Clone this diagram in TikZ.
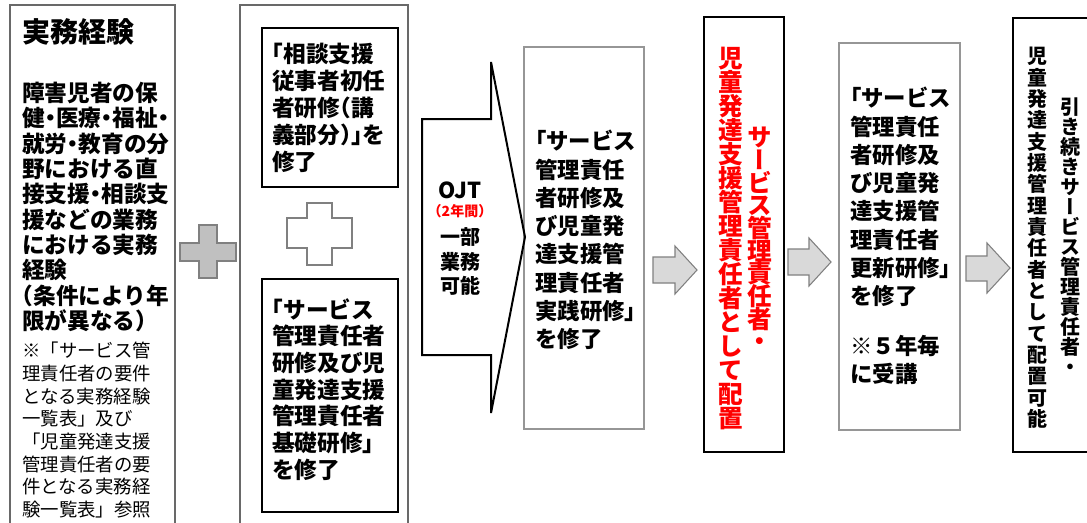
\documentclass[tikz,border=0pt]{standalone}
\usepackage{fontspec}
\usetikzlibrary{fit}
\setmainfont{Noto Sans CJK JP}
\newfontfamily\hfont{Noto Sans CJK JP}[RawFeature=+halt]
\newfontfamily\vfont{Noto Sans CJK JP}[RawFeature=+vert]
\newfontfamily\nfont{Noto Sans CJK JP}
\def\tateloop#1{\ifx\relax#1\else\hbox to 1em{\hss#1\hss}\expandafter\tateloop\fi}
\newcommand\tatecol[2]{\vbox{\baselineskip=#1\lineskiplimit=-\maxdimen\lineskip=0pt\tateloop#2\relax}}
\definecolor{bordgray}{RGB}{105,105,105}
\definecolor{lightbord}{RGB}{150,150,150}
\definecolor{plusfill}{RGB}{192,192,192}
\definecolor{arrfill}{RGB}{217,217,217}
\definecolor{arrdraw}{RGB}{128,128,128}
\definecolor{txtred}{RGB}{255,0,0}
\tikzset{
  outerbox/.style={draw=bordgray, line width=1.6pt, inner sep=0pt},
  grbox/.style={draw=lightbord, line width=0.9pt, inner sep=0pt},
  blkbox/.style={draw=black, line width=1pt, inner sep=0pt},
  blockarrow/.style={draw=arrdraw, fill=arrfill, line width=0.8pt, line join=miter},
  txt/.style={inner sep=0pt, anchor=north west, align=left, text=black},
  vtxt/.style={inner sep=0pt, anchor=north},
}
\begin{document}
\begin{tikzpicture}[x=0.75pt,y=-0.75pt]
\useasboundingbox (0,0) rectangle (1087,522);
% boxes
\node[outerbox, fit={(10,5) (175,545)}] (exp) {};
\node[outerbox, fit={(240,5) (408,545)}] (trn) {};
\node[blkbox, fit={(262,28) (398,187)}] (soudan) {};
\node[blkbox, fit={(262,279) (398,512)}] (kiso) {};
\node[grbox, fit={(524,47) (644,429)}] (jissen) {};
\node[blkbox, line width=1.2pt, fit={(704,17) (784,452)}] (haichi) {};
\node[grbox, fit={(839,43) (960,430)}] (koshin) {};
\node[blkbox, line width=1.2pt, fit={(1013,18) (1100,452)}] (keizoku) {};
% plus signs
\draw[draw=arrdraw, fill=plusfill, line width=0.8pt] (199,225) -- (217,225) -- (217,243) -- (236,243) -- (236,261) -- (217,261) -- (217,278) -- (199,278) -- (199,261) -- (180,261) -- (180,243) -- (199,243) -- cycle;
\draw[draw=arrdraw, fill=white, line width=0.8pt] (307,203) -- (332,203) -- (332,218) -- (352,218) -- (352,248) -- (332,248) -- (332,265) -- (307,265) -- (307,248) -- (287,248) -- (287,218) -- (307,218) -- cycle;
% OJT arrow
\draw[black, line width=1.5pt, line join=miter] (422,119) -- (491,119) -- (491,62) -- (525,237) -- (491,413) -- (491,355) -- (422,355) -- cycle;
% block arrows
\draw[blockarrow] (653,257) -- (675,257) -- (675,246) -- (697,270) -- (675,294) -- (675,283) -- (653,283) -- cycle;
\draw[blockarrow] (788,249) -- (809,249) -- (809,238) -- (831,262) -- (809,286) -- (809,275) -- (788,275) -- cycle;
\draw[blockarrow] (966,256) -- (987,256) -- (987,243) -- (1010,268) -- (987,293) -- (987,281) -- (966,281) -- cycle;
% texts: experience
\node[txt, font={\hfont\bfseries\fontsize{21pt}{24pt}\selectfont}] (t1) at (22,18) {実務経験};
\node[txt, font={\hfont\bfseries\fontsize{17pt}{19pt}\selectfont}] (t2) at (22,82)
 {障害児者の保\\健・医療・福祉・\\就労・教育の分\\野における直\\接支援・相談支\\援などの業務\\における実務\\経験\\（条件により年\\限が異なる）};
\node[txt, font={\nfont\fontsize{13.8pt}{17pt}\selectfont}] (t3) at (22,342)
 {※「サービス管\\理責任者の要件\\となる実務経験\\一覧表」及び\\「児童発達支援\\管理責任者の要\\件となる実務経\\験一覧表」参照};
% training texts
\node[txt, font={\hfont\bfseries\fontsize{17pt}{20.3pt}\selectfont}] (t4) at (272,43)
 {「相談支援\\従事者初任\\者研修（講\\義部分）」を\\修了};
\node[txt, font={\hfont\bfseries\fontsize{17pt}{20pt}\selectfont}] (t5) at (272,298)
 {「サービス\\管理責任者\\研修及び児\\童発達支援\\管理責任者\\基礎研修」\\を修了};
% OJT
\node[inner sep=0pt, font={\nfont\bfseries\fontsize{16.5pt}{18pt}\selectfont}] (o1) at (460,190) {OJT};
\node[inner sep=0pt, text=txtred, font={\nfont\bfseries\fontsize{10.5pt}{12pt}\selectfont}] (o2) at (460,211) {（2年間）};
\node[inner sep=0pt, font={\hfont\bfseries\fontsize{15pt}{17pt}\selectfont}] (o3) at (460,237) {一部};
\node[inner sep=0pt, font={\hfont\bfseries\fontsize{15pt}{17pt}\selectfont}] (o4) at (460,262) {業務};
\node[inner sep=0pt, font={\hfont\bfseries\fontsize{15pt}{17pt}\selectfont}] (o5) at (460,286) {可能};
% practice
\node[txt, font={\hfont\bfseries\fontsize{16.8pt}{21.2pt}\selectfont}] (t6) at (535,130)
 {「サービス\\管理責任\\者研修及\\び児童発\\達支援管\\理責任者\\実践研修」\\を修了};
% red vertical
\node[vtxt, text=txtred, font={\vfont\bfseries\fontsize{18.5pt}{18pt}\selectfont}] (r1) at (760,127) {\tatecol{17pt}{サービス管理責任者・}};
\node[vtxt, text=txtred, font={\vfont\bfseries\fontsize{18.5pt}{18pt}\selectfont}] (r2) at (731,47) {\tatecol{18pt}{児童発達支援管理責任者として配置}};
% renewal
\node[txt, font={\hfont\bfseries\fontsize{16.8pt}{21.2pt}\selectfont}] (t7) at (850,87)
 {「サービス\\管理責任\\者研修及\\び児童発\\達支援管\\理責任者\\更新研修」\\を修了\\[16pt]※５年毎\\に受講};
% final vertical
\node[vtxt, font={\vfont\bfseries\fontsize{15pt}{16pt}\selectfont}] (k1) at (1070,97) {\tatecol{15pt}{引き続きサービス管理責任者・}};
\node[vtxt, font={\vfont\bfseries\fontsize{15pt}{16pt}\selectfont}] (k2) at (1037,47) {\tatecol{16pt}{児童発達支援管理責任者として配置可能}};
\end{tikzpicture}
\end{document}
